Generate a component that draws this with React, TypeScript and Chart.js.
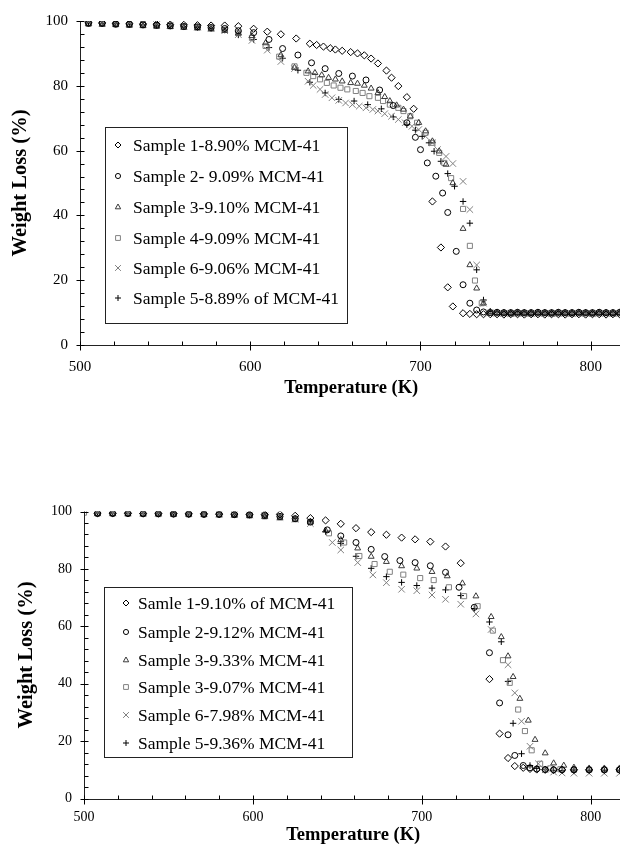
import { useEffect, useRef } from 'react';
import { Chart, registerables } from 'chart.js';
Chart.register(...registerables);

const FONT = "'Liberation Serif', 'Times New Roman', Times, serif";

// ---------------- Top chart data ----------------
const TOP_LABELS = [
  'Sample 1-8.90% MCM-41',
  'Sample 2- 9.09% MCM-41',
  'Sample 3-9.10% MCM-41',
  'Sample 4-9.09% MCM-41',
  'Sample 6-9.06% MCM-41',
  'Sample 5-8.89% of MCM-41',
];
const TOP_EARLY_X = [505, 513, 521, 529, 537, 545, 553, 561, 569, 577, 585, 593];
const TOP_TAIL_X = [741, 745, 749, 753, 757, 761, 765, 769, 773, 777, 781, 785, 789, 793, 797, 801, 805, 809, 813, 817];

const TOP_S1_EARLY = [99.5, 99.4, 99.3, 99.2, 99.1, 99.0, 98.9, 98.8, 98.7, 98.6, 98.6, 98.4];
const TOP_S1_MID_X = [602, 610, 618, 627, 635, 639, 643, 647, 650, 654, 659, 663, 667, 671, 675, 680, 683, 687, 692, 696, 707, 712, 716, 719, 725, 729, 733, 737];
const TOP_S1_MID_Y = [97.6, 96.7, 95.9, 94.6, 93.0, 92.6, 92.1, 91.6, 91.2, 90.8, 90.4, 90.0, 89.4, 88.4, 86.9, 84.7, 82.5, 79.9, 76.5, 72.9, 44.3, 30.1, 17.8, 11.9, 9.8, 9.6, 9.5, 9.5];
const TOP_S1_TAIL = [9.5, 9.5, 9.4, 9.5, 9.5, 9.4, 9.5, 9.5, 9.4, 9.5, 9.5, 9.4, 9.5, 9.5, 9.4, 9.5, 9.5, 9.4, 9.5, 9.5];

const TOP_S2_EARLY = [99.3, 99.3, 99.0, 99.0, 98.8, 98.7, 98.5, 98.3, 98.2, 98.0, 97.7, 97.0];
const TOP_S2_MID_X = [602, 611, 619, 628, 636, 644, 652, 660, 668, 676, 684, 692, 697, 700, 704, 709, 713, 716, 721, 725, 729, 733, 737];
const TOP_S2_MID_Y = [96.4, 94.3, 91.5, 89.5, 87.1, 85.3, 83.8, 83.0, 81.8, 78.7, 73.9, 68.6, 64.1, 60.3, 56.2, 52.1, 46.9, 40.9, 28.9, 18.6, 12.9, 10.8, 10.2];
const TOP_S2_TAIL = [10.0, 10.1, 10.0, 10.0, 10.1, 10.0, 10.0, 10.1, 10.0, 10.0, 10.1, 10.0, 10.0, 10.1, 10.0, 10.0, 10.1, 10.0, 10.0, 10.1];

const TOP_S3_EARLY = [99.0, 98.9, 98.8, 98.6, 98.5, 98.3, 98.2, 98.0, 97.8, 97.5, 97.0, 96.2];
const TOP_S3_MID_X = [601, 609, 618, 626, 634, 638, 642, 646, 650, 654, 659, 663, 667, 671, 675, 679, 682, 686, 690, 694, 699, 703, 707, 711, 715, 719, 725, 729, 733, 737];
const TOP_S3_MID_Y = [95.4, 93.2, 89.5, 85.6, 84.5, 84.0, 83.3, 82.5, 82.0, 81.4, 80.9, 80.7, 80.1, 79.2, 77.8, 76.6, 75.3, 74.0, 72.7, 70.6, 68.6, 66.0, 62.9, 59.8, 55.7, 50.0, 35.9, 24.7, 17.5, 12.9];
const TOP_S3_TAIL = [10.2, 10.0, 10.0, 9.9, 10.0, 10.0, 9.9, 10.0, 10.0, 9.9, 10.0, 10.0, 9.9, 10.0, 10.0, 9.9, 10.0, 10.0, 9.9, 10.0];

const TOP_S4_EARLY = [99.2, 99.1, 99.0, 98.8, 98.7, 98.5, 98.4, 98.2, 98.0, 97.7, 97.3, 96.4];
const TOP_S4_MID_X = [601, 609, 617, 626, 633, 637, 641, 645, 649, 653, 657, 662, 666, 670, 675, 678, 682, 687, 690, 694, 698, 703, 707, 711, 714, 718, 725, 729, 732, 736];
const TOP_S4_MID_Y = [94.8, 92.3, 89.0, 86.0, 84.0, 83.0, 82.0, 80.9, 80.1, 79.4, 78.9, 78.4, 77.8, 76.8, 76.3, 75.3, 74.2, 73.2, 72.2, 70.6, 68.6, 65.5, 62.4, 59.3, 56.2, 51.5, 42.0, 30.6, 19.9, 12.9];
const TOP_S4_TAIL = [10.0, 9.8, 9.8, 9.7, 9.8, 9.8, 9.7, 9.8, 9.8, 9.7, 9.8, 9.8, 9.7, 9.8, 9.8, 9.7, 9.8, 9.8, 9.7, 9.8];

const TOP_S6_EARLY = [99.6, 99.5, 99.4, 99.3, 99.1, 98.9, 98.7, 98.4, 98.1, 97.7, 97.0, 95.8];
const TOP_S6_MID_X = [601, 610, 618, 626, 634, 637, 641, 644, 648, 652, 656, 660, 664, 668, 672, 675, 679, 683, 687, 691, 695, 699, 703, 707, 710, 715, 719, 725, 729, 733, 737];
const TOP_S6_MID_Y = [94.0, 91.0, 87.5, 85.3, 81.4, 80.1, 78.9, 77.3, 76.3, 75.5, 74.7, 74.2, 73.7, 73.2, 72.7, 72.2, 71.4, 70.6, 69.6, 68.6, 67.5, 66.5, 64.4, 62.4, 60.3, 58.2, 56.0, 50.5, 41.8, 24.7, 12.9];
const TOP_S6_TAIL = [9.9, 9.8, 9.8, 9.7, 9.8, 9.8, 9.7, 9.8, 9.8, 9.7, 9.8, 9.8, 9.7, 9.8, 9.8, 9.7, 9.8, 9.8, 9.7, 9.8];

const TOP_S5_EARLY = [99.4, 99.3, 99.2, 99.0, 98.9, 98.7, 98.5, 98.3, 98.0, 97.6, 97.2, 95.7];
const TOP_S5_MID_X = [602, 611, 619, 628, 635, 644, 652, 661, 669, 677, 684, 692, 697, 701, 705, 708, 712, 716, 720, 725, 729, 733, 737];
const TOP_S5_MID_Y = [94.3, 91.8, 88.5, 84.8, 81.1, 77.8, 75.8, 75.3, 74.2, 72.9, 70.4, 68.0, 66.3, 64.4, 62.4, 59.8, 56.7, 52.9, 49.0, 44.3, 37.6, 23.2, 13.9];
const TOP_S5_TAIL = [10.4, 10.0, 9.9, 9.9, 9.9, 9.9, 9.9, 9.9, 9.9, 9.9, 9.9, 9.9, 9.9, 9.9, 9.9, 9.9, 9.9, 9.9, 9.9, 9.9];

// ---------------- Bottom chart data ----------------
const BOT_LABELS = [
  'Samle 1-9.10% of MCM-41',
  'Sample 2-9.12% MCM-41',
  'Sample 3-9.33% MCM-41',
  'Sample 3-9.07% MCM-41',
  'Sample 6-7.98% MCM-41',
  'Sample 5-9.36% MCM-41',
];
const BOT_EARLY_X = [508, 517, 526, 535, 544, 553, 562, 571, 580, 589, 598, 607, 616, 625, 634];
const BOT_TAIL_X = [790, 799, 808, 817];

const BOT_S1_EARLY = [99.4, 99.4, 99.4, 99.3, 99.3, 99.3, 99.2, 99.2, 99.1, 99.1, 99.0, 99.0, 99.0, 98.5, 97.7];
const BOT_S1_MID_X = [643, 652, 661, 670, 679, 688, 696, 705, 714, 723, 740, 746, 751, 755, 760, 764, 768, 773, 778, 783];
const BOT_S1_MID_Y = [96.9, 95.7, 94.2, 92.8, 91.9, 90.9, 90.3, 89.5, 87.8, 82.0, 41.6, 22.6, 14.1, 11.3, 10.7, 10.3, 10.1, 10.0, 10.0, 10.0];
const BOT_S1_TAIL = [10.0, 10.0, 10.0, 10.0];

const BOT_S2_EARLY = [99.3, 99.3, 99.3, 99.2, 99.2, 99.1, 99.1, 99.0, 99.0, 98.9, 98.8, 98.6, 98.3, 97.5, 96.3];
const BOT_S2_MID_X = [644, 652, 661, 670, 678, 687, 696, 705, 714, 722, 731, 740, 746, 751, 755, 760, 764, 768, 773, 778, 783];
const BOT_S2_MID_Y = [93.6, 91.5, 89.2, 86.8, 84.3, 82.9, 82.2, 81.1, 78.8, 73.6, 66.6, 50.8, 33.3, 22.2, 15.0, 11.5, 10.7, 10.3, 10.1, 10.0, 10.0];
const BOT_S2_TAIL = [10.0, 10.0, 10.0, 10.0];

const BOT_S3_EARLY = [99.2, 99.2, 99.2, 99.1, 99.1, 99.0, 99.0, 98.9, 98.8, 98.7, 98.5, 98.2, 97.8, 97.2, 96.3];
const BOT_S3_MID_X = [643, 652, 662, 670, 679, 688, 697, 706, 715, 724, 732, 741, 747, 751, 754, 758, 763, 767, 773, 778, 784];
const BOT_S3_MID_Y = [93.4, 90.1, 87.2, 84.3, 82.5, 81.0, 80.2, 79.0, 77.5, 75.0, 70.5, 63.3, 56.3, 49.6, 42.4, 34.8, 27.2, 20.5, 15.8, 12.3, 11.5];
const BOT_S3_TAIL = [10.8, 10.5, 10.5, 10.5];

const BOT_S4_FIRST_X = [500];
const BOT_S4_FIRST_Y = [99.6];
const BOT_S4_EARLY = [99.3, 99.3, 99.2, 99.2, 99.1, 99.1, 99.0, 99.0, 98.9, 98.8, 98.6, 98.3, 97.9, 97.3, 96.4];
const BOT_S4_MID_X = [645, 654, 663, 672, 681, 689, 699, 707, 716, 725, 733, 742, 748, 752, 757, 761, 765, 770, 776, 782];
const BOT_S4_MID_Y = [92.4, 89.2, 84.5, 81.7, 79.0, 78.0, 76.8, 76.1, 73.6, 70.5, 67.0, 58.5, 48.2, 40.3, 31.0, 23.5, 16.8, 12.1, 10.5, 10.2];
const BOT_S4_TAIL = [10.0, 10.0, 10.0, 10.0];

const BOT_S6_EARLY = [99.5, 99.5, 99.5, 99.4, 99.4, 99.3, 99.3, 99.2, 99.1, 99.0, 98.8, 98.5, 98.0, 97.3, 95.8];
const BOT_S6_MID_X = [647, 652, 662, 671, 679, 688, 697, 706, 714, 723, 732, 741, 751, 755, 759, 764, 769, 773, 778, 783];
const BOT_S6_MID_Y = [89.2, 86.6, 82.2, 77.9, 75.2, 72.9, 72.4, 70.9, 69.4, 67.7, 64.3, 58.9, 46.6, 36.8, 26.9, 18.2, 12.1, 10.0, 9.2, 8.9];
const BOT_S6_TAIL = [8.8, 8.8, 8.8, 8.8];

const BOT_S5_EARLY = [99.4, 99.4, 99.3, 99.3, 99.2, 99.2, 99.1, 99.1, 99.0, 98.9, 98.8, 98.6, 98.2, 97.6, 96.6];
const BOT_S5_MID_X = [643, 652, 661, 670, 679, 688, 697, 706, 714, 723, 731, 740, 747, 751, 754, 759, 764, 768, 773, 778, 783];
const BOT_S5_MID_Y = [93.0, 88.9, 84.4, 80.2, 77.3, 75.3, 74.2, 73.3, 72.7, 70.7, 66.2, 61.5, 54.6, 40.8, 26.2, 15.6, 11.5, 10.5, 10.0, 9.8, 9.7];
const BOT_S5_TAIL = [9.6, 9.6, 9.6, 9.6];

// ---------------- Styling ----------------
const STYLES = [
  { pointStyle: 'rectRot', color: '#000000', radius: 3.6 },
  { pointStyle: 'circle', color: '#000000', radius: 3 },
  { pointStyle: 'triangle', color: '#3a3a3a', radius: 3.4 },
  { pointStyle: 'rect', color: '#808080', radius: 3.6 },
  { pointStyle: 'crossRot', color: '#808080', radius: 4.6 },
  { pointStyle: 'cross', color: '#000000', radius: 3.2 },
];

type Series = { xs: number[]; ys: number[] };

const TOP_SERIES: Series[] = [
  { xs: [...TOP_EARLY_X, ...TOP_S1_MID_X, ...TOP_TAIL_X], ys: [...TOP_S1_EARLY, ...TOP_S1_MID_Y, ...TOP_S1_TAIL] },
  { xs: [...TOP_EARLY_X, ...TOP_S2_MID_X, ...TOP_TAIL_X], ys: [...TOP_S2_EARLY, ...TOP_S2_MID_Y, ...TOP_S2_TAIL] },
  { xs: [...TOP_EARLY_X, ...TOP_S3_MID_X, ...TOP_TAIL_X], ys: [...TOP_S3_EARLY, ...TOP_S3_MID_Y, ...TOP_S3_TAIL] },
  { xs: [...TOP_EARLY_X, ...TOP_S4_MID_X, ...TOP_TAIL_X], ys: [...TOP_S4_EARLY, ...TOP_S4_MID_Y, ...TOP_S4_TAIL] },
  { xs: [...TOP_EARLY_X, ...TOP_S6_MID_X, ...TOP_TAIL_X], ys: [...TOP_S6_EARLY, ...TOP_S6_MID_Y, ...TOP_S6_TAIL] },
  { xs: [...TOP_EARLY_X, ...TOP_S5_MID_X, ...TOP_TAIL_X], ys: [...TOP_S5_EARLY, ...TOP_S5_MID_Y, ...TOP_S5_TAIL] },
];

const BOT_SERIES: Series[] = [
  { xs: [...BOT_EARLY_X, ...BOT_S1_MID_X, ...BOT_TAIL_X], ys: [...BOT_S1_EARLY, ...BOT_S1_MID_Y, ...BOT_S1_TAIL] },
  { xs: [...BOT_EARLY_X, ...BOT_S2_MID_X, ...BOT_TAIL_X], ys: [...BOT_S2_EARLY, ...BOT_S2_MID_Y, ...BOT_S2_TAIL] },
  { xs: [...BOT_EARLY_X, ...BOT_S3_MID_X, ...BOT_TAIL_X], ys: [...BOT_S3_EARLY, ...BOT_S3_MID_Y, ...BOT_S3_TAIL] },
  { xs: [...BOT_S4_FIRST_X, ...BOT_EARLY_X, ...BOT_S4_MID_X, ...BOT_TAIL_X], ys: [...BOT_S4_FIRST_Y, ...BOT_S4_EARLY, ...BOT_S4_MID_Y, ...BOT_S4_TAIL] },
  { xs: [...BOT_EARLY_X, ...BOT_S6_MID_X, ...BOT_TAIL_X], ys: [...BOT_S6_EARLY, ...BOT_S6_MID_Y, ...BOT_S6_TAIL] },
  { xs: [...BOT_EARLY_X, ...BOT_S5_MID_X, ...BOT_TAIL_X], ys: [...BOT_S5_EARLY, ...BOT_S5_MID_Y, ...BOT_S5_TAIL] },
];

type LegendCfg = { x: number; y: number; w: number; h: number; rows: number[]; markerX: number; textX: number; font: number };
type ChartCfg = {
  width: number; height: number;
  plotTop: number; plotBottom: number; plotLeft: number;
  xMax: number;
  tickFont: number; xTitleFont: number; yTitleFont: number;
  xTickGap: number; xTitlePadBottom: number; yTitlePadTop: number;
  legend: LegendCfg;
  labels: string[];
  series: Series[];
};

function drawMarker(ctx: CanvasRenderingContext2D, style: string, x: number, y: number, r: number, color: string) {
  ctx.save();
  ctx.strokeStyle = color;
  ctx.lineWidth = 1;
  ctx.beginPath();
  switch (style) {
    case 'rectRot':
      ctx.moveTo(x, y - r); ctx.lineTo(x + r, y); ctx.lineTo(x, y + r); ctx.lineTo(x - r, y); ctx.closePath();
      break;
    case 'circle':
      ctx.arc(x, y, r * 0.85, 0, Math.PI * 2);
      break;
    case 'triangle':
      ctx.moveTo(x, y - r); ctx.lineTo(x + r * 0.9, y + r * 0.6); ctx.lineTo(x - r * 0.9, y + r * 0.6); ctx.closePath();
      break;
    case 'rect':
      ctx.rect(x - r * 0.8, y - r * 0.8, r * 1.6, r * 1.6);
      break;
    case 'crossRot':
      ctx.moveTo(x - r * 0.8, y - r * 0.8); ctx.lineTo(x + r * 0.8, y + r * 0.8);
      ctx.moveTo(x + r * 0.8, y - r * 0.8); ctx.lineTo(x - r * 0.8, y + r * 0.8);
      break;
    case 'cross':
      ctx.moveTo(x - r, y); ctx.lineTo(x + r, y); ctx.moveTo(x, y - r); ctx.lineTo(x, y + r);
      break;
  }
  ctx.stroke();
  ctx.restore();
}

function makePlugin(cfg: ChartCfg) {
  return {
    id: 'tgaDecor',
    afterDatasetsDraw(chart: any) {
      const ctx: CanvasRenderingContext2D = chart.ctx;
      const xs = chart.scales.x;
      const ys = chart.scales.y;
      const x0 = Math.round(xs.getPixelForValue(xs.min)) + 0.5;
      const y0 = Math.round(ys.getPixelForValue(0)) + 0.5;
      const yTop = ys.getPixelForValue(100);
      ctx.save();
      ctx.lineWidth = 1;
      ctx.strokeStyle = '#222';
      ctx.beginPath();
      ctx.moveTo(x0, yTop);
      ctx.lineTo(x0, y0);
      ctx.moveTo(x0, y0);
      ctx.lineTo(xs.right, y0);
      ctx.stroke();
      // y ticks
      ctx.strokeStyle = '#000';
      ctx.beginPath();
      for (let v = 0; v <= 100; v += 4) {
        const py = Math.round(ys.getPixelForValue(v)) + 0.5;
        if (v % 20 === 0) { ctx.moveTo(x0 - 4, py); ctx.lineTo(x0 + 4, py); }
        else { ctx.moveTo(x0, py); ctx.lineTo(x0 + 4, py); }
      }
      // x ticks
      for (let v = 500; v <= xs.max; v += 20) {
        const px = Math.round(xs.getPixelForValue(v)) + 0.5;
        if (v % 100 === 0) { ctx.moveTo(px, y0 - 4); ctx.lineTo(px, y0 + 5); }
        else { ctx.moveTo(px, y0 - 4); ctx.lineTo(px, y0); }
      }
      ctx.stroke();
      // legend
      const L = cfg.legend;
      ctx.fillStyle = '#fff';
      ctx.fillRect(L.x, L.y, L.w, L.h);
      ctx.strokeStyle = '#222';
      ctx.strokeRect(L.x + 0.5, L.y + 0.5, L.w, L.h);
      ctx.font = `${L.font}px ${FONT}`;
      ctx.fillStyle = '#000';
      ctx.textBaseline = 'middle';
      ctx.textAlign = 'left';
      chart.data.datasets.forEach((ds: any, i: number) => {
        const st = STYLES[i];
        drawMarker(ctx, st.pointStyle, L.markerX, L.rows[i], st.pointStyle === 'crossRot' ? 3.6 : 3, st.color);
        ctx.fillStyle = '#000';
        ctx.fillText(ds.label, L.textX, L.rows[i] + 1);
      });
      ctx.restore();
    },
  };
}

function TgaChart({ cfg }: { cfg: ChartCfg }) {
  const ref = useRef<HTMLCanvasElement>(null);
  useEffect(() => {
    if (!ref.current) return;
    const datasets = cfg.series.map((s, i) => ({
      label: cfg.labels[i],
      data: s.xs.map((x, j) => ({ x, y: s.ys[j] })),
      pointStyle: STYLES[i].pointStyle,
      pointRadius: STYLES[i].radius,
      pointBorderWidth: 1,
      borderColor: STYLES[i].color,
      backgroundColor: 'rgba(0,0,0,0)',
      pointBackgroundColor: 'rgba(0,0,0,0)',
      showLine: false,
    }));
    const chart = new Chart(ref.current, {
      type: 'scatter',
      data: { datasets },
      options: {
        animation: false,
        responsive: false,
        maintainAspectRatio: false,
        devicePixelRatio: 1,
        layout: { padding: { top: cfg.plotTop, left: 0, right: 0, bottom: 0 } },
        plugins: { legend: { display: false }, tooltip: { enabled: false } },
        scales: {
          x: {
            type: 'linear',
            min: 500,
            max: cfg.xMax,
            afterFit: (s: any) => { s.height = cfg.height - cfg.plotBottom; },
            grid: { display: false, drawTicks: true, tickLength: cfg.xTickGap },
            border: { display: false },
            ticks: {
              stepSize: 100,
              includeBounds: false,
              autoSkip: false,
              maxRotation: 0,
              padding: 4,
              color: '#000',
              font: { family: FONT, size: cfg.tickFont },
            },
            title: {
              display: true,
              text: 'Temperature (K)',
              color: '#000',
              font: { family: FONT, size: cfg.xTitleFont, weight: 'bold' },
              padding: { top: 0, bottom: cfg.xTitlePadBottom },
            },
          },
          y: {
            min: 0,
            max: 100,
            afterFit: (s: any) => { s.width = cfg.plotLeft; },
            grid: { display: false, drawTicks: true, tickLength: 8 },
            border: { display: false },
            ticks: {
              stepSize: 20,
              padding: 4,
              color: '#000',
              font: { family: FONT, size: cfg.tickFont },
            },
            title: {
              display: true,
              text: 'Weight Loss (%)',
              color: '#000',
              font: { family: FONT, size: cfg.yTitleFont, weight: 'bold' },
              padding: { top: cfg.yTitlePadTop, bottom: 0 },
            },
          },
        },
      },
      plugins: [makePlugin(cfg)],
    } as any);
    return () => chart.destroy();
  }, [cfg]);
  return <canvas ref={ref} width={cfg.width} height={cfg.height} style={{ display: 'block', width: cfg.width, height: cfg.height }} />;
}

const TOP_CFG: ChartCfg = {
  width: 620, height: 410,
  plotTop: 13, plotBottom: 337, plotLeft: 72,
  xMax: 818.6,
  tickFont: 15, xTitleFont: 18.5, yTitleFont: 20.5,
  xTickGap: 9, xTitlePadBottom: 19, yTitlePadTop: 0,
  legend: { x: 97, y: 119, w: 242, h: 196, rows: [137, 168, 199, 230, 260, 290], markerX: 110, textX: 125, font: 17.5 },
  labels: TOP_LABELS,
  series: TOP_SERIES,
};

const BOT_CFG: ChartCfg = {
  width: 620, height: 431,
  plotTop: 93.5, plotBottom: 380.5, plotLeft: 76,
  xMax: 818.7,
  tickFont: 14, xTitleFont: 18.5, yTitleFont: 20.5,
  xTickGap: 6, xTitlePadBottom: 3, yTitlePadTop: 6,
  legend: { x: 96, y: 169, w: 248, h: 170, rows: [185, 214, 242, 269, 297, 325], markerX: 118, textX: 130, font: 17.5 },
  labels: BOT_LABELS,
  series: BOT_SERIES,
};

export default function App() {
  return (
    <div style={{ width: 620 }}>
      <TgaChart cfg={TOP_CFG} />
      <TgaChart cfg={BOT_CFG} />
    </div>
  );
}
